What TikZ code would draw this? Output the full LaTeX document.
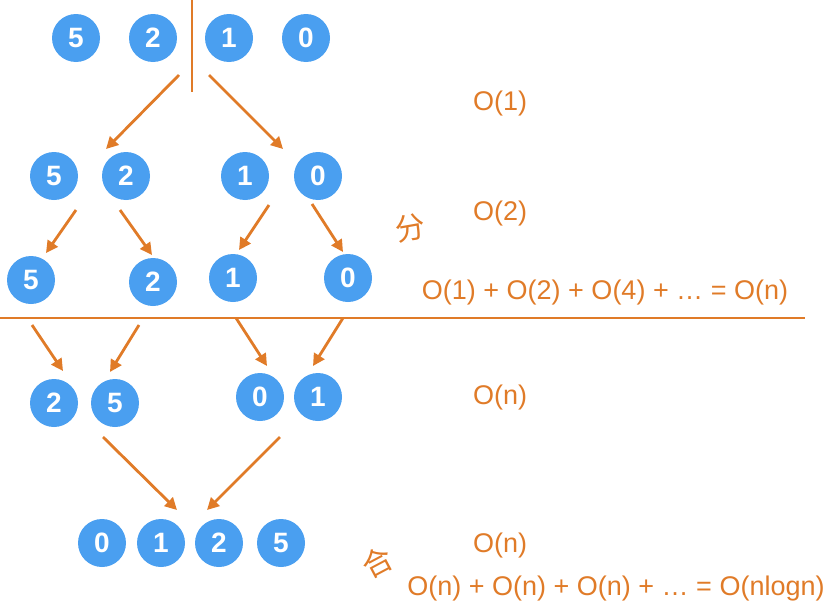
\documentclass[tikz,border=0pt]{standalone}
\usepackage{fontspec}
\setmainfont{Liberation Sans}
\newfontfamily\cjkfont{Noto Sans CJK SC}
\usepackage{tikz}
\usetikzlibrary{arrows.meta}
\definecolor{ballBlue}{HTML}{4A9FF0}
\definecolor{lineOrange}{HTML}{E07B28}
\newcommand\ballR{24pt}
\tikzset{
    ball/.style={circle, fill=ballBlue, text=white, minimum size=2*\ballR, inner sep=0pt,
        font=\fontsize{28}{28}\selectfont\bfseries},
    arr/.style={draw=lineOrange, line width=2.8pt, -{Triangle[length=12pt,width=12pt]}},
    sep/.style={draw=lineOrange, line width=2.4pt},
    cost/.style={text=lineOrange, font=\fontsize{27}{27}\selectfont},
    hanzi/.style={text=lineOrange, font=\cjkfont\fontsize{30}{30}\selectfont}
}

\begin{document}
\begin{tikzpicture}[x=1pt, y=-1pt]
    \useasboundingbox (0,0) rectangle (833,605);

    % row 1: input
    \node[ball] (a5) at (76,38) {5};
    \node[ball] (a2) at (153,38) {2};
    \node[ball] (a1) at (229,38) {1};
    \node[ball] (a0) at (306,38) {0};

    % row 2
    \node[ball] (b5) at (54,176) {5};
    \node[ball] (b2) at (126,176) {2};
    \node[ball] (b1) at (245,176) {1};
    \node[ball] (b0) at (318,176) {0};

    % row 3: single elements
    \node[ball] (c5) at (31,280) {5};
    \node[ball] (c2) at (153,282) {2};
    \node[ball] (c1) at (233,278) {1};
    \node[ball] (c0) at (348,278) {0};

    % row 4
    \node[ball] (d2) at (54,403) {2};
    \node[ball] (d5) at (115,403) {5};
    \node[ball] (d0) at (260,397) {0};
    \node[ball] (d1) at (318,397) {1};

    % row 5: result
    \node[ball] (e0) at (102,543) {0};
    \node[ball] (e1) at (161,543) {1};
    \node[ball] (e2) at (219,543) {2};
    \node[ball] (e5) at (281,543) {5};

    % split and merge lines
    \coordinate (splitTop) at (192,0);
    \coordinate (splitBot) at (192,92);
    \coordinate (mergeL) at (0,318);
    \coordinate (mergeR) at (805,318);
    \draw[sep] (splitTop) -- (splitBot);
    \draw[sep] (mergeL) -- (mergeR);

    % arrow ends
    \coordinate (p1s) at (179,75);  \coordinate (p1e) at (106,149);
    \coordinate (p2s) at (209,75);  \coordinate (p2e) at (283,149);
    \coordinate (q1s) at (76,210);  \coordinate (q1e) at (46,253);
    \coordinate (q2s) at (120,210); \coordinate (q2e) at (152,255);
    \coordinate (q3s) at (269,205); \coordinate (q3e) at (239,250);
    \coordinate (q4s) at (312,204); \coordinate (q4e) at (343,252);
    \coordinate (r1s) at (32,325);  \coordinate (r1e) at (63,371);
    \coordinate (r2s) at (139,325); \coordinate (r2e) at (110,372);
    \coordinate (r3s) at (236,318); \coordinate (r3e) at (267,366);
    \coordinate (r4s) at (343,318); \coordinate (r4e) at (313,366);
    \coordinate (t1s) at (103,437); \coordinate (t1e) at (177,510);
    \coordinate (t2s) at (280,437); \coordinate (t2e) at (207,510);

    \foreach \a in {p1,p2,q1,q2,q3,q4,r1,r2,r3,r4,t1,t2}
        \draw[arr] (\a s) -- (\a e);

    % costs
    \node[cost] (k1) at (500,104) {O(1)};
    \node[cost] (k2) at (500,214) {O(2)};
    \node[cost] (kSplit) at (605,293) {O(1) + O(2) + O(4) + … = O(n)};
    \node[cost] (k3) at (500,398) {O(n)};
    \node[cost] (k4) at (500,546) {O(n)};
    \node[cost] (kMerge) at (616,589) {O(n) + O(n) + O(n) + … = O(nlogn)};

    \node[hanzi, rotate=10] (fen) at (410,228) {分};
    \node[hanzi, rotate=28] (he) at (377,562) {合};
\end{tikzpicture}
\end{document}
